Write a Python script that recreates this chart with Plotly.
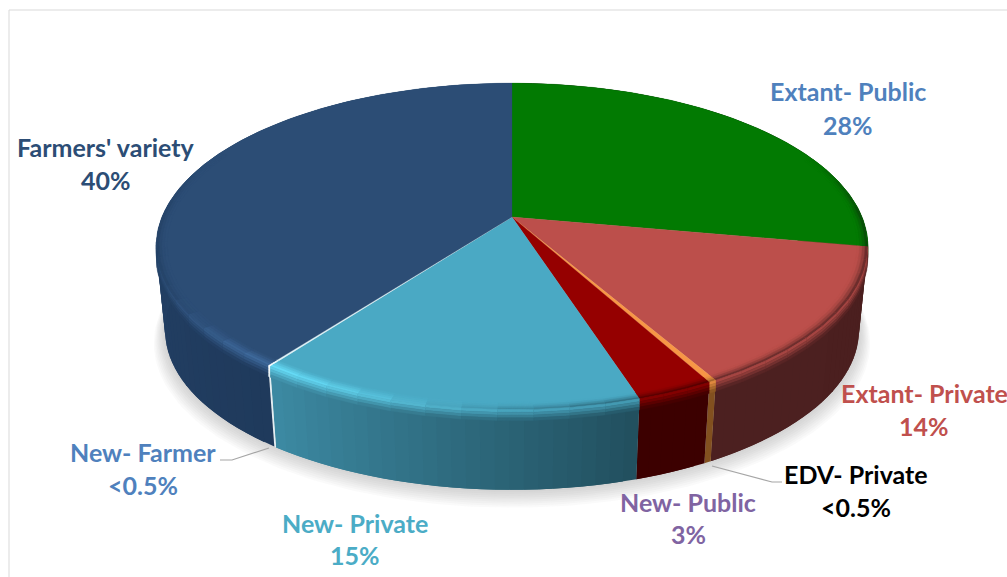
import numpy as np
import plotly.graph_objects as go

# Variety shares, clockwise from twelve o'clock
categories = ["Extant- Public", "Extant- Private", "EDV- Private", "New- Public",
              "New- Private", "New- Farmer", "Farmers' variety"]
shares = [28, 14, 0.3, 3, 15, 0.1, 40]
share_labels = ["28%", "14%", "<0.5%", "3%", "15%", "<0.5%", "40%"]

# Slice styling
top_colors = ["#027a02", "#bc4f4b", "#f79646", "#950000", "#4aa9c4", "#dff3f8", "#2c4d75"]
side_start = ["#0b3d0b", "#4c2020", "#8a5620", "#3c0000", "#3d8aa3", "#e4eef2", "#2a4a72"]
side_end = ["#0b3d0b", "#4b1f1f", "#7a4a1e", "#3c0000", "#214f5e", "#e4eef2", "#1f3a5c"]
glints = ["#027a02", "#bc4f4b", "#f79646", "#950000", "#66dcf7", "#ffffff", "#3f6b9e"]
text_colors = ["#4f81bd", "#c0504d", "#000000", "#8064a2", "#4bacc6", "#4f81bd", "#2c4d75"]

# Label centres in page pixels: (x, first line y, second line y)
label_anchor = [(848, 91, 125), (924, 393, 426), (856, 474, 507), (688, 502, 534),
                (355, 523, 555), (143, 452, 485), (106, 147, 180)]

# Perspective pie geometry
CX, CY = 512, 217
A, B, K = 158, 350, 0.18
DEPTH, FLOOR_SCALE = 85, 0.975


def project(r, theta):
    X, Y = r * np.sin(theta), r * np.cos(theta)
    d = 1 + K * Y
    return CX + B * X / d, CY - A * Y / d


def floor(r, theta, grow=0.0, drop=0.0):
    x, y = project(r, theta)
    s = FLOOR_SCALE + grow
    return CX + (x - CX) * s, CY + (y - CY) * s + DEPTH + drop


def rgb(c):
    return np.array([int(c[i:i + 2], 16) for i in (1, 3, 5)], float)


def mix(a, b, t):
    v = rgb(a) * (1 - t) + rgb(b) * t
    return "#%02x%02x%02x" % tuple(int(round(q)) for q in v)


def poly(x, y, color, opacity=1.0, edge=0.0):
    return go.Scatter(x=list(x), y=list(y), mode="lines", fill="toself", fillcolor=color,
                      line=dict(color=color, width=edge), opacity=opacity,
                      hoverinfo="skip", showlegend=False)


fractions = np.array(shares, float) / sum(shares)
edges = np.concatenate([[0], np.cumsum(fractions)]) * 2 * np.pi
fig = go.Figure()

# Soft drop shadow under the front of the disc
ring = np.linspace(0, 2 * np.pi, 240)
for i in range(9, 0, -1):
    x, y = floor(1, ring, grow=0.0035 * i, drop=1.3 * i)
    fig.add_trace(poly(x, y, "#707070", opacity=0.035))

# Outer wall, slice by slice; each strip runs under the next one so no seams show
for i in range(len(shares)):
    a0, a1 = edges[i], edges[i + 1]
    n = max(1, int(np.ceil((a1 - a0) / np.radians(2))))
    cuts = np.linspace(a0, a1, n + 1)
    for j in range(n):
        t = np.linspace(cuts[j], cuts[min(j + 2, n)], 6)
        xt, yt = project(1, t)
        xb, yb = floor(1, t)
        color = mix(side_start[i], side_end[i], 1 - (j + 0.5) / n)
        fig.add_trace(poly(np.r_[xt, xb[::-1]], np.r_[yt, yb[::-1]], color))

# Flat top of each slice
for i in range(len(shares)):
    t = np.linspace(edges[i], edges[i + 1], max(3, int((edges[i + 1] - edges[i]) * 60)))
    x, y = project(1, t)
    fig.add_trace(poly(np.r_[CX, x, CX], np.r_[CY, y, CY], top_colors[i], edge=0.3))

# Bevel between top and wall, on the camera-facing part of the rim
BANDS = 8


def bevel_point(s, theta):
    r = 1 - 0.03 * np.maximum(0, 1 - 2 * s)
    x, y = project(r, theta)
    return x, y + 11 * np.maximum(0, 2 * s - 1)


for i in range(len(shares)):
    a0, a1 = edges[i], edges[i + 1]
    n = max(1, int(np.ceil((a1 - a0) / np.radians(5))))
    cuts = np.linspace(a0, a1, n + 1)
    for j in range(n):
        mid = (cuts[j] + cuts[j + 1]) / 2
        w = np.clip((0.42 - np.cos(mid)) / 0.4, 0, 1)
        if w <= 0:
            continue
        deg = np.degrees(mid)
        glow = np.exp(-((deg - 216) / (30 if deg < 216 else 22)) ** 2)
        wall = mix(side_start[i], side_end[i], 1 - (j + 0.5) / n)
        t = np.linspace(cuts[j], cuts[min(j + 1, n)], 4)
        for b in range(BANDS):
            s0, s1 = b / BANDS, (b + 1) / BANDS
            sm = (s0 + s1) / 2
            # the downward part of the bevel only exists where the wall is visible
            if sm > 0.5 and np.cos(mid) > -0.12:
                continue
            lit = mix(top_colors[i], glints[i], glow)
            if sm < 0.45:
                shade = mix(top_colors[i], wall, (1 - glow) * 0.75 * w * (sm / 0.45) ** 2)
                color = mix(shade, lit, glow * (sm / 0.45))
            else:
                color = mix(lit, wall, (sm - 0.45) / 0.55)
            x0, y0 = bevel_point(s0, t)
            x1, y1 = bevel_point(s1, t)
            fig.add_trace(poly(np.r_[x0, x1[::-1]], np.r_[y0, y1[::-1]], color, edge=0.4))

# Category and share labels
annotations = []
for name, pct, color, (lx, y1, y2) in zip(categories, share_labels, text_colors, label_anchor):
    for text, ly in ((name, y1), (pct, y2)):
        annotations.append(dict(x=lx, y=ly, text=f"<b>{text}</b>", showarrow=False,
                                xanchor="center", yanchor="middle",
                                font=dict(family="Lato", size=25, color=color)))

# Chart frame and the two leader lines
shapes = [
    dict(type="line", x0=9, y0=10, x1=1007, y1=10, line=dict(color="#d9d9d9", width=1)),
    dict(type="line", x0=9, y0=10, x1=9, y1=577, line=dict(color="#d9d9d9", width=1)),
    dict(type="path", path="M220,460 L232,460 L269,448", line=dict(color="#a6a6a6", width=1.2)),
    dict(type="path", path="M712,466 L772,482 L782,482", line=dict(color="#a6a6a6", width=1.2)),
]

fig.update_layout(
    width=1007, height=577, margin=dict(l=0, r=0, t=0, b=0),
    paper_bgcolor="white", plot_bgcolor="white", showlegend=False,
    xaxis=dict(range=[0, 1007], visible=False, fixedrange=True),
    yaxis=dict(range=[577, 0], visible=False, fixedrange=True),
    annotations=annotations, shapes=shapes,
)
fig.write_html("out.html", config=dict(displayModeBar=False))
